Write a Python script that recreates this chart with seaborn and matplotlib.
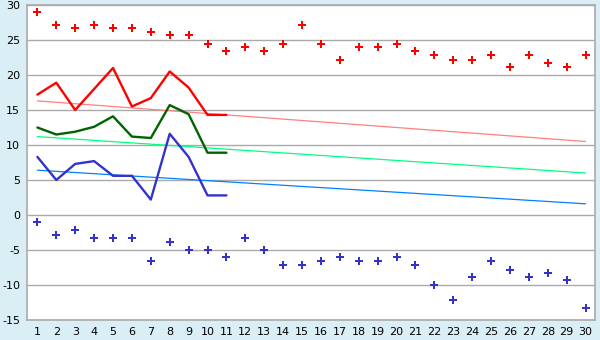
import matplotlib
matplotlib.use("Agg")
import matplotlib.pyplot as plt
import seaborn as sns
import numpy as np

days = list(range(1, 31))
max_pts = [29.0, 27.2, 26.7, 27.2, 26.7, 26.7, 26.1, 25.7, 25.7, 24.4,
           23.4, 24.0, 23.4, 24.4, 27.2, 24.4, 22.2, 24.0, 24.0, 24.4,
           23.4, 22.8, 22.2, 22.2, 22.8, 21.1, 22.8, 21.7, 21.1, 22.8]
min_pts = [-1.0, -2.8, -2.2, -3.3, -3.3, -3.3, -6.6, -3.9, -5.0, -5.0,
           -6.0, -3.3, -5.0, -7.2, -7.2, -6.6, -6.0, -6.6, -6.6, -6.0,
           -7.2, -10.0, -12.2, -8.9, -6.6, -7.8, -8.9, -8.3, -9.3, -13.3]
line_days = list(range(1, 12))
max_line = [17.2, 18.9, 15.0, 18.0, 21.0, 15.5, 16.7, 20.5, 18.2, 14.3, 14.3]
mean_line = [12.5, 11.5, 11.9, 12.6, 14.1, 11.2, 11.0, 15.7, 14.4, 8.9, 8.9]
min_line = [8.3, 5.0, 7.3, 7.7, 5.6, 5.6, 2.2, 11.6, 8.3, 2.8, 2.8]
trend_days = [1, 30]
trend_max = [16.3, 10.5]
trend_mean = [11.2, 6.0]
trend_min = [6.4, 1.6]
yticks = [-15, -10, -5, 0, 5, 10, 15, 20, 25, 30]

sns.set_style("white")
plt.rcParams['font.family'] = ['DejaVu Sans']

fig = plt.figure(figsize=(6, 3.4), dpi=100)
fig.patch.set_facecolor("#daeef5")
ax = fig.add_axes([0.045, 0.0588, 0.9467, 0.9265])
ax.set_facecolor("white")

for y in yticks:
    ax.axhline(y, color="#aaaaaa", lw=1.0, zorder=0)

sns.lineplot(x=trend_days, y=trend_max, color="#ff8080", lw=0.9, ax=ax)
sns.lineplot(x=trend_days, y=trend_mean, color="#00ff80", lw=0.9, ax=ax)
sns.lineplot(x=trend_days, y=trend_min, color="#0080ff", lw=0.9, ax=ax)

sns.lineplot(x=line_days, y=max_line, color="#ff0000", lw=1.7, ax=ax)
sns.lineplot(x=line_days, y=mean_line, color="#006400", lw=1.7, ax=ax)
sns.lineplot(x=line_days, y=min_line, color="#3333cc", lw=1.7, ax=ax)

sns.scatterplot(x=days, y=max_pts, color="#ff0000", marker="P", s=32,
                linewidth=0, ax=ax)
sns.scatterplot(x=days, y=min_pts, color="#3333cc", marker="P", s=32,
                linewidth=0, ax=ax)

ax.set_xlim(0.45, 30.5)
ax.set_ylim(-15, 30)
ax.set_xticks(days)
ax.set_xticklabels([str(d) for d in days])
ax.set_yticks(yticks)
ax.set_yticklabels([str(y) for y in yticks])
ax.tick_params(axis="x", labelsize=8, colors="black", length=4,
               width=1, pad=1)
ax.tick_params(axis="x", color="#222222")
ax.tick_params(axis="y", labelsize=8, colors="black", length=0, pad=5)
for s in ax.spines.values():
    s.set_color("#aaaaaa")
    s.set_linewidth(1.2)
ax.set_xlabel("")
ax.set_ylabel("")

fig.savefig("out.png", dpi=100, facecolor=fig.get_facecolor())
